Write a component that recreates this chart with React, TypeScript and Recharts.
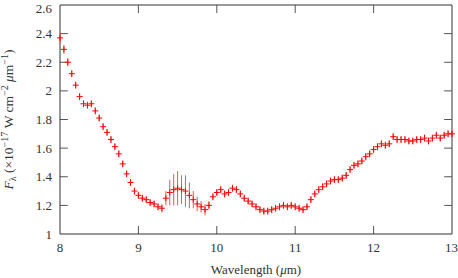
import { ScatterChart, Scatter, XAxis, YAxis, ReferenceLine, Label } from "recharts";

// wavelength (µm)
const wavelength = [
  8.0, 8.05, 8.1, 8.15, 8.2, 8.25, 8.3, 8.35, 8.4, 8.45,
  8.5, 8.55, 8.6, 8.65, 8.7, 8.75, 8.8, 8.85, 8.9, 8.95,
  9.0, 9.05, 9.1, 9.15, 9.2, 9.25, 9.3, 9.35, 9.4, 9.45,
  9.5, 9.55, 9.6, 9.65, 9.7, 9.75, 9.8, 9.85, 9.9, 9.95,
  10.0, 10.05, 10.1, 10.15, 10.2, 10.25, 10.3, 10.35, 10.4, 10.45,
  10.5, 10.55, 10.6, 10.65, 10.7, 10.75, 10.8, 10.85, 10.9, 10.95,
  11.0, 11.05, 11.1, 11.15, 11.2, 11.25, 11.3, 11.35, 11.4, 11.45,
  11.5, 11.55, 11.6, 11.65, 11.7, 11.75, 11.8, 11.85, 11.9, 11.95,
  12.0, 12.05, 12.1, 12.15, 12.2, 12.25, 12.3, 12.35, 12.4, 12.45,
  12.5, 12.55, 12.6, 12.65, 12.7, 12.75, 12.8, 12.85, 12.9, 12.95,
  13.0,
];

// F_lambda (1e-17 W cm^-2 µm^-1)
const flux = [
  2.37, 2.29, 2.2, 2.12, 2.04, 1.96, 1.91, 1.9, 1.91, 1.86,
  1.81, 1.75, 1.71, 1.66, 1.61, 1.56, 1.49, 1.42, 1.36, 1.3,
  1.27, 1.25, 1.24, 1.22, 1.21, 1.19, 1.18, 1.25, 1.29, 1.31,
  1.32, 1.31, 1.3, 1.27, 1.24, 1.21, 1.19, 1.17, 1.2, 1.26,
  1.29, 1.31, 1.28, 1.29, 1.32, 1.31, 1.28, 1.25, 1.23, 1.21,
  1.19, 1.17, 1.16, 1.16, 1.17, 1.18, 1.19, 1.2, 1.19, 1.2,
  1.19, 1.18, 1.17, 1.19, 1.24, 1.28, 1.31, 1.33, 1.35, 1.37,
  1.38, 1.38, 1.39, 1.41, 1.45, 1.48, 1.49, 1.51, 1.54, 1.56,
  1.59, 1.61, 1.63, 1.62, 1.63, 1.68, 1.66, 1.66, 1.66, 1.65,
  1.65, 1.66, 1.66, 1.67, 1.65, 1.67, 1.69, 1.67, 1.69, 1.7,
  1.7,
];

const fluxErr = [
  0.04, 0.03, 0.03, 0.025, 0.025, 0.025, 0.025, 0.025, 0.025, 0.025,
  0.025, 0.025, 0.025, 0.025, 0.025, 0.025, 0.025, 0.025, 0.025, 0.025,
  0.025, 0.025, 0.025, 0.025, 0.025, 0.025, 0.03, 0.05, 0.09, 0.11,
  0.12, 0.1, 0.11, 0.09, 0.06, 0.05, 0.04, 0.04, 0.03, 0.025,
  0.025, 0.025, 0.025, 0.025, 0.025, 0.025, 0.025, 0.025, 0.025, 0.025,
  0.025, 0.025, 0.025, 0.025, 0.025, 0.025, 0.025, 0.025, 0.025, 0.025,
  0.025, 0.025, 0.025, 0.025, 0.025, 0.025, 0.025, 0.025, 0.025, 0.025,
  0.025, 0.025, 0.025, 0.025, 0.025, 0.025, 0.025, 0.025, 0.025, 0.025,
  0.025, 0.025, 0.025, 0.025, 0.025, 0.025, 0.025, 0.025, 0.025, 0.025,
  0.025, 0.025, 0.025, 0.025, 0.025, 0.025, 0.025, 0.025, 0.025, 0.025,
  0.025,
];

const xTicks = [8, 9, 10, 11, 12, 13];
const yTicks = [1, 1.2, 1.4, 1.6, 1.8, 2, 2.2, 2.4, 2.6];

const data = wavelength.map((x, i) => ({ x, y: flux[i], err: fluxErr[i] }));

const FONT = '"Liberation Serif", "DejaVu Serif", serif';
const FRAME = "#333";
const RED = "#ff0000";
const ERR_RED = "#ff5050";

const CHART_W = 458;
const CHART_H = 278;
const MARGIN = { top: 5, right: 6, bottom: 0, left: 0 };
const X_AXIS_H = 44;
const Y_MIN = 1;
const Y_MAX = 2.6;
// pixels per flux unit, for the error bar length
const PX_PER_Y = (CHART_H - MARGIN.top - MARGIN.bottom - X_AXIS_H) / (Y_MAX - Y_MIN);

// inner tick length in data units (about 8px)
const TICK_X = 0.1;
const TICK_Y = 0.056;

const PlusMark = (p: any) => {
  const e = p.payload.err * PX_PER_Y;
  return (
    <g>
      <line x1={p.cx} x2={p.cx} y1={p.cy - e} y2={p.cy + e} stroke={ERR_RED} strokeWidth={1} />
      <line x1={p.cx - 3} x2={p.cx + 3} y1={p.cy} y2={p.cy} stroke={RED} strokeWidth={1} />
      <line x1={p.cx} x2={p.cx} y1={p.cy - 3} y2={p.cy + 3} stroke={RED} strokeWidth={1} />
    </g>
  );
};

const XLabel = (props: any) => {
  const { x, y, width, height } = props.viewBox;
  return (
    <text x={x + width / 2} y={y + height - 4} textAnchor="middle" fontFamily={FONT} fontSize={13} fill="#333">
      Wavelength (<tspan fontStyle="italic">μ</tspan>m)
    </text>
  );
};

const YLabel = (props: any) => {
  const { y, height } = props.viewBox;
  const cx = 13;
  const cy = y + height / 2;
  return (
    <text
      x={cx}
      y={cy}
      transform={`rotate(-90 ${cx} ${cy})`}
      textAnchor="middle"
      fontFamily={FONT}
      fontSize={13.5}
      fill="#333"
    >
      <tspan fontStyle="italic">F</tspan>
      <tspan fontSize={10} dy={3}>λ</tspan>
      <tspan dy={-3}> (×10</tspan>
      <tspan fontSize={10} dy={-5}>−17</tspan>
      <tspan dy={5}> W cm</tspan>
      <tspan fontSize={10} dy={-5}>−2</tspan>
      <tspan dy={5}> </tspan>
      <tspan fontStyle="italic">μ</tspan>
      <tspan>m</tspan>
      <tspan fontSize={10} dy={-5}>−1</tspan>
      <tspan dy={5}>)</tspan>
    </text>
  );
};

export default function App() {
  const tickStyle = { fill: "#333", fontSize: 13, fontFamily: FONT };
  return (
    <div style={{ position: "absolute", left: 0, top: 0, background: "#fff" }}>
      <ScatterChart width={CHART_W} height={CHART_H} margin={MARGIN}>
        <XAxis
          type="number"
          dataKey="x"
          domain={[8, 13]}
          ticks={xTicks}
          tickLine={false}
          tickSize={0}
          tickMargin={9}
          height={X_AXIS_H}
          axisLine={{ stroke: FRAME }}
          tick={tickStyle}
        >
          <Label content={XLabel} />
        </XAxis>
        <YAxis
          type="number"
          dataKey="y"
          domain={[Y_MIN, Y_MAX]}
          ticks={yTicks}
          tickLine={false}
          tickSize={0}
          tickMargin={8}
          width={60}
          axisLine={{ stroke: FRAME }}
          tick={tickStyle}
        >
          <Label content={YLabel} />
        </YAxis>
        <ReferenceLine y={Y_MAX} stroke={FRAME} />
        <ReferenceLine x={13} stroke={FRAME} />
        {xTicks.slice(1, -1).map((t) => (
          <ReferenceLine key={`b${t}`} segment={[{ x: t, y: Y_MIN }, { x: t, y: Y_MIN + TICK_Y }]} stroke="#555" />
        ))}
        {xTicks.slice(1, -1).map((t) => (
          <ReferenceLine key={`t${t}`} segment={[{ x: t, y: Y_MAX }, { x: t, y: Y_MAX - TICK_Y }]} stroke="#555" />
        ))}
        {yTicks.slice(1, -1).map((t) => (
          <ReferenceLine key={`l${t}`} segment={[{ x: 8, y: t }, { x: 8 + TICK_X, y: t }]} stroke="#555" />
        ))}
        {yTicks.slice(1, -1).map((t) => (
          <ReferenceLine key={`r${t}`} segment={[{ x: 13, y: t }, { x: 13 - TICK_X, y: t }]} stroke="#555" />
        ))}
        <Scatter data={data} shape={PlusMark} isAnimationActive={false} />
      </ScatterChart>
    </div>
  );
}
